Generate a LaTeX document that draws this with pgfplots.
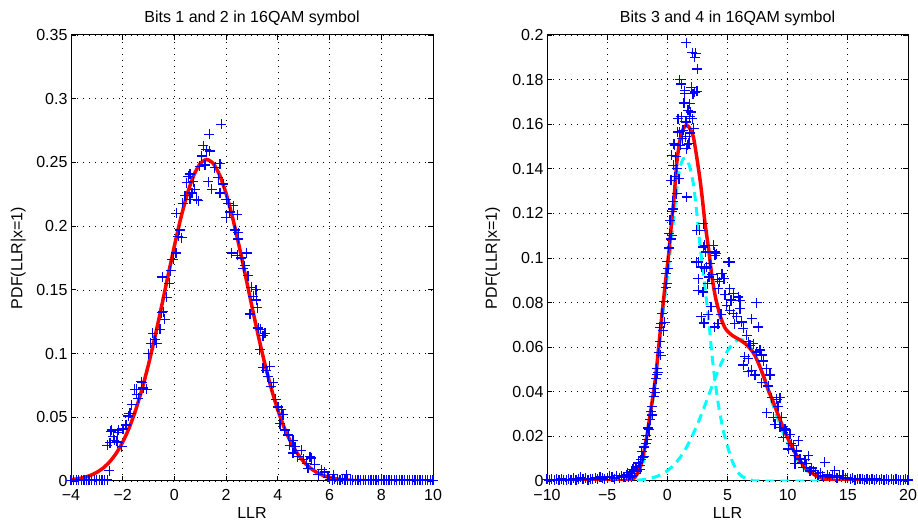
\documentclass[border=0pt]{standalone}
\usepackage{fontspec}
\setmainfont{Liberation Sans}
\usepackage{pgfplots}
\pgfplotsset{compat=1.18}
\definecolor{mblue}{RGB}{0,0,255}
\definecolor{mred}{RGB}{255,0,0}
\definecolor{mcyan}{RGB}{0,255,255}
\pgfplotsset{
  matlab/.style={
    scale only axis, height=446pt,
    axis line style={line width=1pt},
    tick align=inside, major tick length=5pt,
    tick style={black, line width=0.8pt},
    grid=major,
    major grid style={black, line width=0.7pt, dash pattern=on 0.8pt off 5.2pt},
    every tick label/.append style={font=\fontsize{16}{18}\selectfont},
    xticklabel style={yshift=-5pt},
    title style={font=\fontsize{16}{18}\selectfont, at={(axis description cs:0.5,1.024)}, anchor=center},
    xlabel style={font=\fontsize{16}{18}\selectfont, at={(axis description cs:0.5,-0.072)}, anchor=center},
    ylabel style={font=\fontsize{16}{18}\selectfont, anchor=center, rotate=0},
  },
  scatterstyle/.style={only marks, mark=+, mark size=5pt, draw=mblue, color=mblue, mark options={draw=mblue, line width=1.25pt, solid}},
  redline/.style={draw=mred, line width=3.5pt, smooth, tension=0.4, no marks},
  cyanline/.style={draw=mcyan, line width=3pt, dash pattern=on 9pt off 6pt, smooth, tension=0.4, no marks},
}
\begin{document}
\begin{tikzpicture}[x=1pt,y=1pt]
\useasboundingbox (0,0) rectangle (918,526);
% ---------------- left panel ----------------
\begin{axis}[matlab, at={(71pt,45pt)}, anchor=south west, width=362pt,
  xmin=-4, xmax=10, ymin=0, ymax=0.35,
  xtick={-4,-2,0,2,4,6,8,10}, xticklabels={−4,−2,0,2,4,6,8,10},
  ytick={0,0.05,0.1,0.15,0.2,0.25,0.3,0.35}, yticklabels={0,0.05,0.1,0.15,0.2,0.25,0.3,0.35},
  title={Bits 1 and 2 in 16QAM symbol}, xlabel={LLR}, ylabel={PDF(LLR|x=1)},
  ylabel style={at={(axis description cs:-0.146,0.5)}, rotate=0}]
\addplot[scatterstyle] coordinates {
(-4,0.0006) (-3.9,0.0004) (-3.8,0.0007) (-3.7,0.0005) (-3.6,0.0008) (-3.5,0.0004) (-3.4,0.0006) (-3.3,0.0009) (-3.2,0.0005) (-3.1,0.0007) (-3.0,0.0004) (-2.9,0.0008) (-2.8,0.0006) (-2.7,0.0009) (-2.6,0.0007)
(-2.52,0.0081) (-2.59,0.028) (-2.46,0.039) (-2.43,0.040) (-2.36,0.035) (-2.33,0.032) (-2.49,0.030) (-2.24,0.031) (-2.2,0.038) (-2.17,0.040) (-2.2,0.030) (-2.0,0.0405) (-1.98,0.041) (-2.04,0.027) (-1.87,0.044) (-1.78,0.051) (-1.74,0.053) (-1.69,0.053) (-1.66,0.060) (-1.53,0.072) (-1.48,0.072) (-1.46,0.068) (-1.40,0.065) (-1.28,0.078) (-1.27,0.077) (-1.20,0.073) (-1.08,0.072)
(-1.01,0.100) (-0.92,0.108) (-0.84,0.116) (-0.75,0.111) (-0.69,0.108) (-0.56,0.119) (-0.50,0.132) (-0.43,0.133) (-0.37,0.127) (-0.47,0.160) (-0.30,0.144) (-0.20,0.155) (-0.15,0.165) (-0.05,0.174) (-0.11,0.174) (0.06,0.179) (0.08,0.210) (0.15,0.192) (0.28,0.191) (0.21,0.197) (0.32,0.218) (0.41,0.224) (0.47,0.234) (0.60,0.241) (0.53,0.239) (0.73,0.235) (0.79,0.229) (0.86,0.221) (0.92,0.220) (0.60,0.221) (0.68,0.226)
(0.98,0.247) (1.05,0.255) (1.11,0.263) (1.24,0.260) (1.18,0.248) (1.35,0.272) (1.31,0.235) (1.37,0.259) (1.44,0.229) (1.56,0.246) (1.69,0.238) (1.82,0.280) (1.76,0.249) (1.76,0.226) (1.89,0.233) (2.01,0.221) (2.08,0.218) (2.01,0.207) (2.14,0.211) (2.27,0.216) (2.34,0.197) (2.43,0.209) (2.47,0.195) (2.47,0.190)
(2.21,0.179) (2.43,0.177) (2.59,0.175) (2.66,0.167) (2.72,0.169) (2.79,0.179) (2.85,0.161) (2.98,0.152) (3.05,0.145) (3.15,0.150) (3.17,0.142) (3.20,0.136) (2.92,0.131) (3.24,0.120) (3.33,0.119) (3.43,0.114) (3.50,0.116) (3.30,0.103) (3.43,0.089) (3.56,0.087) (3.69,0.090) (3.62,0.082) (3.75,0.074) (3.82,0.077) (3.92,0.064) (4.01,0.058) (4.14,0.056) (4.20,0.052) (4.08,0.045) (4.27,0.040) (4.40,0.036) (4.46,0.028) (4.59,0.032) (4.66,0.027) (4.59,0.022) (4.76,0.019) (4.91,0.024) (4.98,0.017) (5.11,0.014) (5.24,0.019) (5.30,0.018) (5.17,0.010) (5.43,0.013) (5.56,0.005) (5.69,0.009) (5.81,0.007) (5.94,0.003) (6.14,0.005) (6.65,0.005)
(6.0,0.0012) (6.1,0.0008) (6.2,0.0012) (6.3,0.0006) (6.4,0.0009) (6.5,0.0015) (6.6,0.0007) (6.7,0.0011) (6.8,0.0006) (6.9,0.0009) (7.0,0.0005) (7.1,0.0008) (7.2,0.0006) (7.3,0.0009) (7.4,0.0005) (7.5,0.0007) (7.6,0.0004) (7.7,0.0008) (7.8,0.0006) (7.9,0.0005) (8.0,0.0007) (8.1,0.0004) (8.2,0.0006) (8.3,0.0008) (8.4,0.0005) (8.5,0.0006) (8.6,0.0004) (8.7,0.0007) (8.8,0.0005) (8.9,0.0006) (9.0,0.0004) (9.1,0.0007) (9.2,0.0005) (9.3,0.0006) (9.4,0.0004) (9.5,0.0006) (9.6,0.0005) (9.7,0.0007) (9.8,0.0004) (9.9,0.0006) (10.0,0.0005)
};
\addplot[redline] coordinates {
(-4,0.00102) (-3.75,0.0017) (-3.5,0.00277) (-3.25,0.0044) (-3,0.00681) (-2.75,0.01028) (-2.5,0.01515) (-2.25,0.02177) (-2,0.03051) (-1.75,0.04171) (-1.5,0.05561) (-1.25,0.07229) (-1,0.09166) (-0.75,0.11336) (-0.5,0.13675) (-0.25,0.16087) (0,0.18458) (0.25,0.20656) (0.5,0.22546) (0.75,0.2400) (1,0.24917) (1.25,0.2523) (1.5,0.24917) (1.75,0.2400) (2,0.22546) (2.25,0.20656) (2.5,0.18458) (2.75,0.16087) (3,0.13675) (3.25,0.11336) (3.5,0.09166) (3.75,0.07229) (4,0.05561) (4.25,0.04171) (4.5,0.03051) (4.75,0.02177) (5,0.01515) (5.25,0.01028) (5.5,0.00681) (5.75,0.0044) (6,0.00277) (6.25,0.0017) (6.5,0.00102) (7,0.00034) (8,0.00003) (9,0) (10,0)
};
\end{axis}
% ---------------- right panel ----------------
\begin{axis}[matlab, at={(547pt,45pt)}, anchor=south west, width=361pt,
  xmin=-10, xmax=20, ymin=0, ymax=0.2,
  xtick={-10,-5,0,5,10,15,20}, xticklabels={−10,−5,0,5,10,15,20},
  ytick={0,0.02,0.04,0.06,0.08,0.1,0.12,0.14,0.16,0.18,0.2}, yticklabels={0,0.02,0.04,0.06,0.08,0.1,0.12,0.14,0.16,0.18,0.2},
  title={Bits 3 and 4 in 16QAM symbol}, xlabel={LLR}, ylabel={PDF(LLR|x=1)},
  ylabel style={at={(axis description cs:-0.150,0.5)}, rotate=0}]
\addplot[scatterstyle] coordinates {
(-10,0.0008) (-9.8,0.0005) (-9.6,0.0008) (-9.4,0.0003) (-9.2,0.0007) (-9.0,0.0005) (-8.8,0.001) (-8.6,0.0006) (-8.4,0.0004) (-8.2,0.0008) (-8.0,0.0006) (-7.8,0.0012) (-7.6,0.0005) (-7.4,0.0009) (-7.2,0.0016) (-7.0,0.0008) (-6.8,0.0012) (-6.6,0.0006) (-6.4,0.0011) (-6.2,0.0008) (-6.0,0.0015) (-5.8,0.0009) (-5.6,0.0018) (-5.4,0.0012) (-5.2,0.0008) (-5.0,0.0014) (-4.8,0.0021) (-4.6,0.0016) (-4.4,0.0011) (-4.2,0.0024) (-4.0,0.0015) (-3.8,0.0022) (-3.6,0.0017) (-3.4,0.0029)
(-3.3,0.0037) (-3.2,0.0018) (-3.1,0.0026) (-3.0,0.0041) (-2.9,0.0022) (-2.85,0.0052) (-2.7,0.0035) (-2.6,0.0063) (-2.5,0.0045) (-2.41,0.0081) (-2.3,0.0068) (-2.26,0.0052) (-2.2,0.0095) (-2.12,0.0133) (-2.05,0.0108) (-1.97,0.0111) (-1.9,0.0152) (-1.8,0.0168) (-1.75,0.0205) (-1.68,0.0185) (-1.6,0.0238) (-1.53,0.023) (-1.45,0.0275) (-1.38,0.0312) (-1.3,0.0335) (-1.24,0.0296) (-1.15,0.0378) (-1.1,0.0415) (-1.02,0.0398) (-0.94,0.0459) (-0.9,0.0505) (-0.85,0.0478) (-0.79,0.0487) (-0.72,0.0575) (-0.65,0.0689) (-0.6,0.0625) (-0.56,0.0563) (-0.5,0.0705) (-0.45,0.0752) (-0.35,0.0674) (-0.3,0.0805) (-0.21,0.0711) (-0.15,0.0868) (-0.1,0.0932) (-0.05,0.0885) (0.0,0.0985) (0.05,0.0952) (0.1,0.1045) (0.15,0.1109) (0.22,0.1169) (0.28,0.1085) (0.3,0.1348) (0.36,0.1101) (0.36,0.146) (0.4,0.121) (0.45,0.1255) (0.5,0.1415) (0.5,0.122) (0.55,0.1512) (0.6,0.1365) (0.61,0.1507) (0.7,0.1455) (0.78,0.14) (0.78,0.1288)
(0.85,0.1565) (0.89,0.1625) (0.97,0.1355) (1.02,0.1799) (1.02,0.1566) (1.08,0.1505) (1.16,0.178) (1.16,0.1633) (1.24,0.1535) (1.3,0.1573) (1.38,0.1695) (1.44,0.175) (1.44,0.1736) (1.5,0.1612) (1.52,0.1544) (1.58,0.1966) (1.58,0.161) (1.58,0.149) (1.61,0.1273) (1.66,0.1508) (1.72,0.1662) (1.8,0.1514) (1.86,0.1692) (1.86,0.1633) (1.86,0.156) (1.94,0.1655) (1.99,0.1766) (2.08,0.1921) (2.08,0.1625) (2.13,0.1736) (2.2,0.1582) (2.27,0.190) (2.27,0.1744) (2.35,0.1917) (2.47,0.1748) (2.49,0.1847)
(2.42,0.0982) (2.44,0.1124) (2.56,0.0907) (2.56,0.0855) (2.58,0.0982) (2.69,0.1124) (2.83,0.096) (2.83,0.0736) (2.97,0.0848) (2.99,0.1154) (2.99,0.1049) (3.05,0.0708) (3.11,0.1057) (3.11,0.0952) (3.19,0.1027) (3.27,0.096) (3.35,0.0885) (3.4,0.0745) (3.46,0.0915) (3.55,0.0975) (3.62,0.0782) (3.7,0.0925) (3.82,0.1057) (3.94,0.1027) (3.94,0.0691) (3.96,0.1012) (4.08,0.1019) (4.15,0.0905) (4.2,0.0705) (4.25,0.0862) (4.36,0.0893) (4.45,0.0748) (4.5,0.093) (4.57,0.093) (4.64,0.0907) (4.71,0.0907) (4.8,0.0835) (4.92,0.0788) (5.07,0.0982) (5.19,0.0982) (5.19,0.0863) (5.19,0.0766) (5.3,0.0812) (5.47,0.084) (5.47,0.0751) (5.6,0.0705) (5.75,0.0736) (5.89,0.0825) (6.03,0.081) (6.03,0.0773) (6.17,0.0713) (6.31,0.0684) (6.31,0.052) (6.44,0.0557) (6.58,0.0654) (6.72,0.0624) (6.72,0.0549) (6.72,0.049) (6.86,0.0609) (7.0,0.0728) (7.0,0.0497) (7.14,0.0616) (7.28,0.0475) (7.42,0.08) (7.42,0.0579) (7.56,0.0691) (7.69,0.0587) (7.83,0.0564) (7.85,0.0567) (7.85,0.0441) (7.97,0.0542) (7.99,0.0538)
(8.25,0.0504) (8.26,0.0307) (8.4,0.0426) (8.53,0.0475) (8.54,0.0478) (8.68,0.0374) (8.82,0.0285) (8.95,0.0255) (9.09,0.0367) (9.2,0.0335) (9.37,0.0374) (9.37,0.024) (9.5,0.0285) (9.64,0.0196) (9.78,0.0233) (9.9,0.0225) (10.06,0.0143) (10.19,0.021) (10.3,0.0168) (10.47,0.0158) (10.61,0.0114) (10.61,0.0077) (10.75,0.0135) (10.88,0.018) (11.02,0.0099) (11.15,0.0082) (11.3,0.0062) (11.45,0.0095) (11.57,0.0077) (11.71,0.0114) (11.85,0.0045) (12.0,0.0058) (12.12,0.0047) (12.3,0.0032) (12.53,0.0025) (12.7,0.0038) (12.9,0.0022) (13.09,0.0084) (13.3,0.0028) (13.5,0.0018) (13.7,0.0025) (13.91,0.0047) (14.1,0.0015) (14.3,0.0022) (14.6,0.0025) (14.8,0.0012)
(15.0,0.0015) (15.2,0.0008) (15.4,0.0012) (15.6,0.0006) (15.8,0.0010) (16.0,0.0007) (16.2,0.0011) (16.4,0.0005) (16.6,0.0009) (16.8,0.0006) (17.0,0.0008) (17.2,0.0005) (17.4,0.0009) (17.6,0.0006) (17.8,0.0008) (18.0,0.0005) (18.2,0.0007) (18.4,0.0004) (18.6,0.0008) (18.8,0.0005) (19.0,0.0007) (19.2,0.0004) (19.4,0.0006) (19.6,0.0005) (19.8,0.0007) (20.0,0.0005)
};
\addplot[cyanline] coordinates {
(-10,0) (-4,0) (-3.5,0.0002) (-3,0.0008) (-2.5,0.003) (-2.2,0.0055) (-2,0.0085) (-1.66,0.0205) (-1.24,0.035) (-0.97,0.0452) (-0.69,0.0595) (-0.41,0.0735) (-0.14,0.0857) (0.14,0.098) (0.36,0.1095) (0.55,0.1185) (0.78,0.1305) (1.05,0.1405) (1.33,0.1445) (1.61,0.1443) (1.88,0.1405) (2.16,0.1334) (2.44,0.1207) (2.7,0.1065) (2.95,0.095) (3.2,0.0835) (3.45,0.0715) (3.7,0.057) (3.95,0.0455) (4.25,0.034) (4.63,0.023) (5.0,0.0155) (5.46,0.008) (6.0,0.003) (6.5,0.0012) (7.0,0.0004) (8,0) (20,0)
};
\addplot[cyanline] coordinates {
(-10,0) (-4,0) (-3,0.0002) (-2,0.0006) (-1.5,0.0011) (-1,0.0018) (-0.5,0.0029) (0,0.0046) (0.5,0.0069) (1,0.0101) (1.5,0.0142) (2,0.0194) (2.5,0.0254) (3,0.0322) (3.5,0.0394) (4,0.0465) (4.5,0.053) (5,0.0583) (5.5,0.0619) (6,0.0635) (6.5,0.0626) (7,0.0592) (7.5,0.0536) (8,0.0464) (8.5,0.0385) (9,0.0306) (9.5,0.0233) (10,0.017) (10.5,0.0118) (11,0.0079) (11.5,0.0051) (12,0.0031) (12.5,0.0018) (13,0.001) (14,0.0003) (15,0.0001) (16,0) (20,0)
};
\addplot[redline] coordinates {
(-10,0) (-4,0) (-3.5,0.0002) (-3.1,0.0006) (-2.7,0.0015) (-2.45,0.004) (-2.21,0.0067) (-1.95,0.013) (-1.66,0.0215) (-1.45,0.029) (-1.24,0.0364) (-0.97,0.0468) (-0.69,0.0616) (-0.41,0.0765) (-0.14,0.0899) (0.14,0.1032) (0.36,0.1166) (0.55,0.1265) (0.78,0.1425) (1.05,0.153) (1.33,0.158) (1.61,0.1596) (1.88,0.158) (2.16,0.1544) (2.44,0.1454) (2.72,0.135) (2.9,0.127) (3.13,0.1157) (3.45,0.1032) (3.7,0.092) (4.0,0.0824) (4.42,0.0735) (4.83,0.0683) (5.39,0.0653) (6.08,0.0631) (6.63,0.0609) (7.18,0.0572) (7.6,0.0525) (8.01,0.0468) (8.45,0.040) (8.84,0.0349) (9.4,0.027) (9.94,0.02) (10.5,0.0138) (11.05,0.0089) (11.6,0.0052) (12.43,0.0022) (13.2,0.0008) (14,0.0003) (15,0.0001) (16,0) (20,0)
};
\end{axis}
\end{tikzpicture}
\end{document}
